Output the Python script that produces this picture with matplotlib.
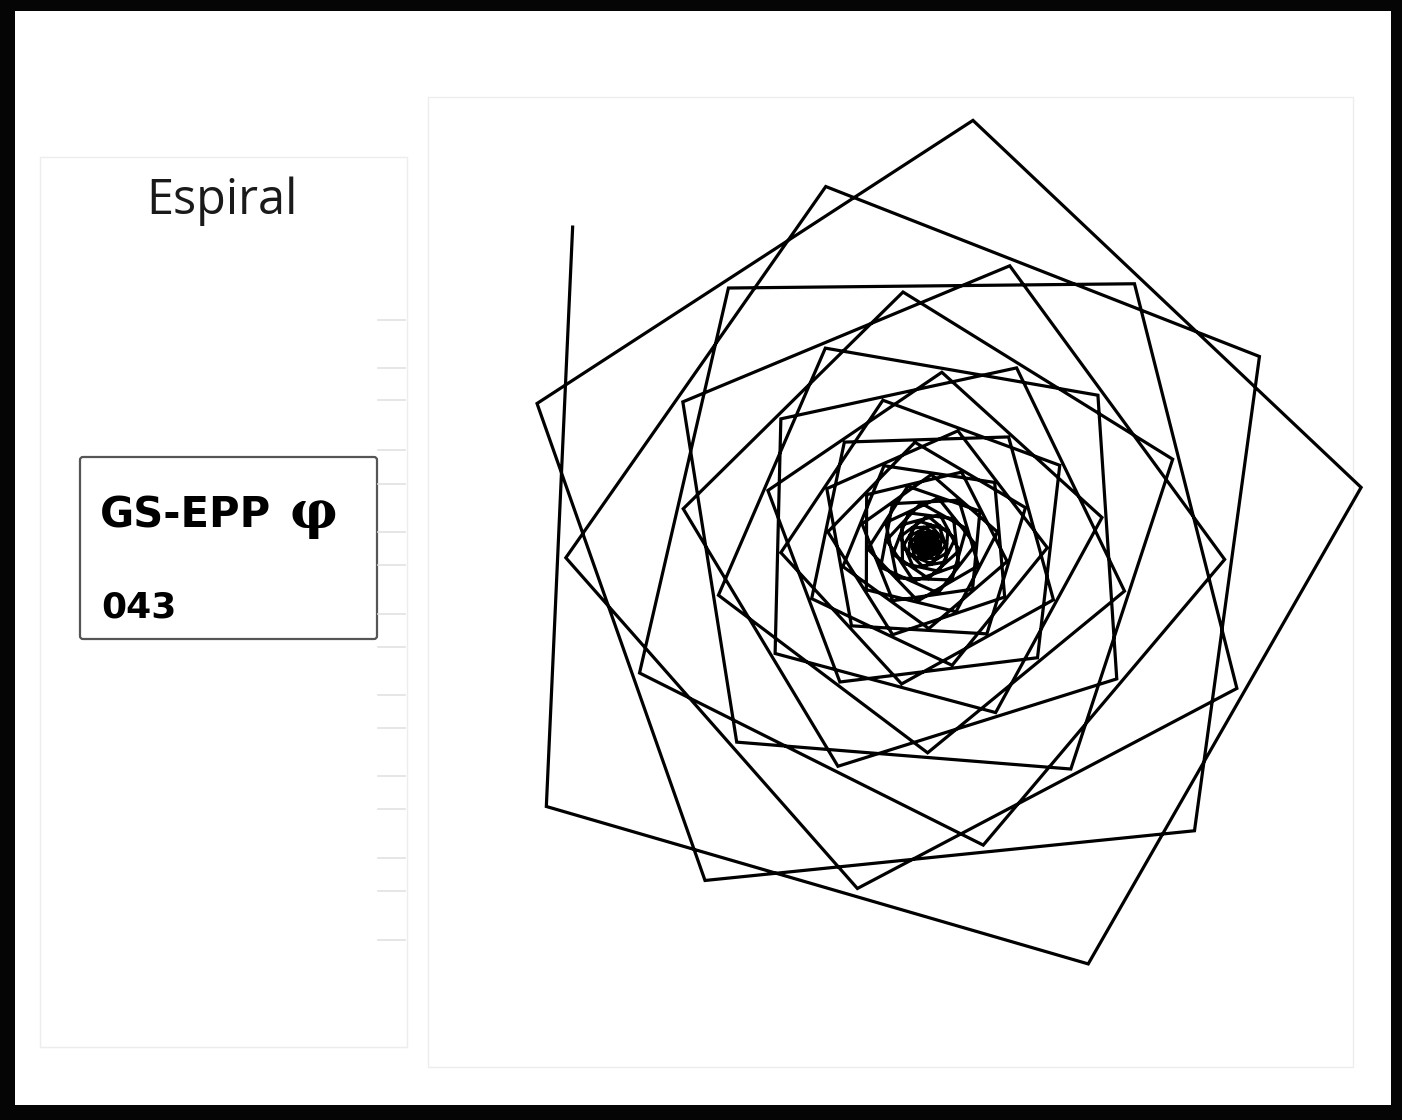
import numpy as np
import matplotlib.pyplot as plt
from matplotlib.patches import Rectangle, FancyBboxPatch

# turtle spiral, segment lengths in px,
# listed from the outermost segment inwards (each ~2.7 % shorter)
steps_outer_in = [
    580, 564.3, 549.1, 534.2, 519.8, 505.7, 492.0, 478.7, 465.8, 453.2, 440.9,
    429.0, 417.4, 406.1, 395.1, 384.4, 374.0, 363.9, 354.1, 344.5, 335.2, 326.1,
    317.3, 308.7, 300.4, 292.2, 284.3, 276.6, 269.2, 261.9, 254.8, 247.9, 241.2,
    234.7, 228.3, 222.2, 216.2, 210.3, 204.6, 199.1, 193.7, 188.5, 183.4, 178.4,
    173.6, 168.9, 164.3, 159.9, 155.5, 151.3, 147.2, 143.3, 139.4, 135.6, 132.0,
    128.4, 124.9, 121.6, 118.2, 115.0, 111.9, 108.9, 106.0, 103.1, 100.3, 97.6,
    95.0, 92.4, 89.9, 87.5, 85.1, 82.8, 80.6, 78.4, 76.3, 74.2, 72.2,
    70.2, 68.3, 66.5, 64.7, 62.9, 61.2, 59.6, 58.0, 56.4, 54.9, 53.4,
    52.0, 50.5, 49.2, 47.8, 46.5, 45.3, 44.1, 42.9, 41.7, 40.6, 39.5,
    38.4, 37.4, 36.4, 35.4, 34.4, 33.5, 32.6, 31.7, 30.9, 30.0, 29.2,
    28.4, 27.7, 26.9, 26.2, 25.5, 24.8, 24.1, 23.5, 22.8, 22.2, 21.6,
    21.0, 20.5, 19.9, 19.4, 18.8, 18.3, 17.8, 17.4, 16.9, 16.4, 16.0,
    15.5, 15.1, 14.7, 14.3, 13.9, 13.6, 13.2, 12.8, 12.5, 12.1, 11.8,
    11.5, 11.2, 10.9, 10.6, 10.3, 10.0, 9.8, 9.5, 9.2, 9.0, 8.7,
    8.5, 8.3, 8.1, 7.8, 7.6, 7.4, 7.2, 7.0, 6.8, 6.6, 6.5,
    6.3, 6.1, 5.9, 5.8, 5.6, 5.5, 5.3, 5.2, 5.1, 4.9, 4.8,
    4.7, 4.5, 4.4, 4.3, 4.2, 4.1, 4.0, 3.8, 3.7, 3.6, 3.5,
    3.4, 3.3, 3.3, 3.2, 3.1, 3.0, 2.9, 2.8, 2.8, 2.7, 2.6,
]
turn_right = 76.4     # degrees between segments (clockwise)
last_heading = 87.4   # heading of the final, outermost segment (deg)

title = 'Espiral'
badge_name = 'GS-EPP'
badge_sym = 'φ'
badge_num = '043'
tick_rows = [320, 368, 400, 450, 484, 532, 565, 614, 647, 695, 728, 776,
             809, 858, 891, 940]

W, H = 1402, 1120
fig = plt.figure(figsize=(W / 100, H / 100), dpi=100)

# background layer in pixel units
bg = fig.add_axes([0, 0, 1, 1])
bg.set_xlim(0, W)
bg.set_ylim(H, 0)
bg.axis('off')

# black screenshot frame
bg.add_patch(Rectangle((0, 0), W, H, facecolor='#050505', edgecolor='none'))
bg.add_patch(Rectangle((15, 11), 1391 - 15, 1105 - 11, facecolor='white',
                       edgecolor='none'))

# faint panel outlines
faint = '#ededed'
bg.add_patch(Rectangle((40, 157), 367, 890, fill=False, edgecolor=faint, lw=1))
bg.add_patch(Rectangle((428, 97), 925, 970, fill=False, edgecolor=faint, lw=1))
for y in tick_rows:
    bg.plot([378, 405], [y, y], color='#e2e2e2', lw=1.2)

bg.text(222, 214, title, fontsize=35, family='Open Sans', ha='center',
        va='baseline', color='#1a1a1a')

bg.add_patch(FancyBboxPatch((80, 457), 297, 182,
                            boxstyle='round,pad=0,rounding_size=3',
                            facecolor='white', edgecolor='#555555', lw=1.6))
bg.text(100, 528, badge_name, fontsize=30, fontweight='bold',
        family='DejaVu Sans', va='baseline', color='black')
bg.text(289, 528, badge_sym, fontsize=38, fontweight='bold',
        family='DejaVu Serif', va='baseline', color='black')
bg.text(101, 617, badge_num, fontsize=26, fontweight='bold',
        family='DejaVu Sans', va='baseline', color='black')

# spiral layer: turtle coordinates, 1 unit = 1 px, origin at the start
L = np.array(steps_outer_in[::-1], dtype=float)
k_back = np.arange(len(L))[::-1]
heading = np.deg2rad(last_heading + turn_right * k_back)
xs = np.concatenate([[0], np.cumsum(L * np.cos(heading))])
ys = np.concatenate([[0], np.cumsum(L * np.sin(heading))])

ax = fig.add_axes([428 / W, 1 - 1068 / H, 927 / W, 973 / H])
ax.set_facecolor('none')
ax.plot(xs, ys, color='black', lw=2.3, solid_joinstyle='miter', clip_on=False)
ax.set_xlim(-497, 430)
ax.set_ylim(-525, 448)
ax.axis('off')

fig.savefig('out.png', dpi=100)
